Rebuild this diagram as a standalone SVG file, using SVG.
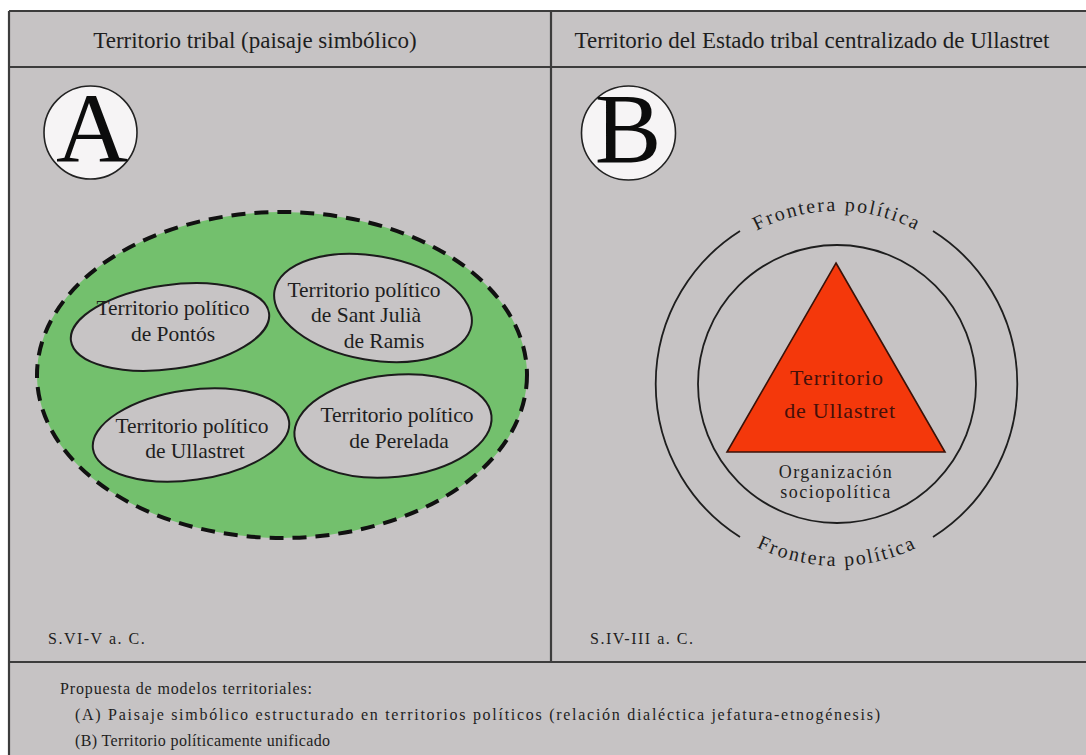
<svg xmlns="http://www.w3.org/2000/svg" width="1086" height="755" viewBox="0 0 1086 755">
  <style>
    text { font-family: "Liberation Serif", "Times New Roman", serif; fill: #1e1e1e; }
    .rule { stroke: #3c3c3c; stroke-width: 2.2; fill: none; }
    .terr { fill: #c7c4c5; stroke: #1c1c1c; stroke-width: 2; }
    .lbl { font-size: 21.5px; text-anchor: middle; }
    .badge { fill: #f6f4f5; stroke: #222; stroke-width: 1.6; }
    .letter { font-size: 100px; text-anchor: middle; fill: #0c0c0c; }
    .ring { fill: none; stroke: #1e1e1e; stroke-width: 1.8; }
    .front { font-size: 20px; letter-spacing: 2px; text-anchor: middle; }
    .date { font-size: 16px; letter-spacing: 1.5px; }
    .note { font-size: 16px; }
    .core { font-size: 22px; text-anchor: middle; fill: #45100a; }
  </style>
  <defs>
    <path id="arcTop" d="M 687.2 297.5 A 173 173 0 0 1 986.8 297.5"/>
    <path id="arcBottom" d="M 679.4 475 A 182 182 0 0 0 994.6 475"/>
  </defs>

  <!-- page background and frame -->
  <rect x="0" y="0" width="1086" height="755" fill="#ffffff"/>
  <rect x="9" y="11" width="1077" height="744" fill="#c6c3c4"/>
  <g id="frame">
    <line class="rule" x1="9" y1="11" x2="1086" y2="11"/>
    <line class="rule" x1="9" y1="67" x2="1086" y2="67"/>
    <line class="rule" x1="9" y1="662" x2="1086" y2="662"/>
    <line class="rule" x1="9" y1="11" x2="9" y2="755"/>
    <line class="rule" x1="551" y1="11" x2="551" y2="662"/>
  </g>

  <!-- column headings -->
  <g id="headings">
    <text x="255" y="48" font-size="23" text-anchor="middle">Territorio tribal (paisaje simbólico)</text>
    <text x="812" y="48" font-size="23" text-anchor="middle">Territorio del Estado tribal centralizado de Ullastret</text>
  </g>

  <!-- panel A -->
  <g id="badge-a">
    <circle class="badge" cx="90.5" cy="132.5" r="46.5"/>
    <text class="letter" x="92" y="162">A</text>
  </g>

  <g id="tribal-territory">
    <ellipse cx="282" cy="375" rx="245" ry="163" fill="#73c06d" stroke="#111" stroke-width="4" stroke-dasharray="14 9"/>
  </g>

  <g id="terr-pontos">
    <ellipse class="terr" cx="170" cy="327" rx="100" ry="42" transform="rotate(-8 170 327)"/>
    <text class="lbl" x="173" y="315">Territorio político</text>
    <text class="lbl" x="173" y="341">de Pontós</text>
  </g>

  <g id="terr-sant-julia">
    <ellipse class="terr" cx="373" cy="308" rx="100" ry="52" transform="rotate(10 373 308)"/>
    <text class="lbl" x="364" y="297">Territorio político</text>
    <text class="lbl" x="366" y="322">de Sant Julià</text>
    <text class="lbl" x="384" y="348">de Ramis</text>
  </g>

  <g id="terr-ullastret">
    <ellipse class="terr" cx="191" cy="435" rx="99" ry="45" transform="rotate(-8 191 435)"/>
    <text class="lbl" x="192" y="433">Territorio político</text>
    <text class="lbl" x="195" y="458">de Ullastret</text>
  </g>

  <g id="terr-perelada">
    <ellipse class="terr" cx="393" cy="426" rx="99" ry="51" transform="rotate(-6 393 426)"/>
    <text class="lbl" x="397" y="422">Territorio político</text>
    <text class="lbl" x="399" y="448">de Perelada</text>
  </g>

  <text class="date" x="48" y="644">S.VI-V a. C.</text>

  <!-- panel B -->
  <g id="badge-b">
    <circle class="badge" cx="628.5" cy="133" r="47"/>
    <text class="letter" x="628" y="162" font-size="96">B</text>
  </g>

  <g id="political-border">
    <path class="ring" d="M 740 231 A 181 181 0 0 0 740 537"/>
    <path class="ring" d="M 933 231 A 181 181 0 0 1 933 537"/>
    <text class="front"><textPath href="#arcTop" startOffset="50%">Frontera política</textPath></text>
    <text class="front"><textPath href="#arcBottom" startOffset="50%">Frontera política</textPath></text>
  </g>

  <g id="sociopolitical-org">
    <circle class="ring" cx="837" cy="384" r="139"/>
    <text x="836" y="478" font-size="18" letter-spacing="1.5" text-anchor="middle">Organización</text>
    <text x="836" y="498" font-size="18" letter-spacing="1.5" text-anchor="middle">sociopolítica</text>
  </g>

  <g id="ullastret-core">
    <polygon points="836,263 945,452 727,452" fill="#f4380b" stroke="#3a1208" stroke-width="1.6"/>
    <text class="core" x="837" y="385" letter-spacing="1">Territorio</text>
    <text class="core" x="840" y="418" letter-spacing="0.8">de Ullastret</text>
  </g>

  <text class="date" x="590" y="644">S.IV-III a. C.</text>

  <!-- caption -->
  <g id="caption">
    <text class="note" x="60" y="694" textLength="252" lengthAdjust="spacing">Propuesta de modelos territoriales:</text>
    <text class="note" x="75" y="720" textLength="805" lengthAdjust="spacing">(A) Paisaje simbólico estructurado en territorios políticos (relación dialéctica jefatura-etnogénesis)</text>
    <text class="note" x="75" y="746" textLength="255" lengthAdjust="spacing">(B) Territorio políticamente unificado</text>
  </g>
</svg>
